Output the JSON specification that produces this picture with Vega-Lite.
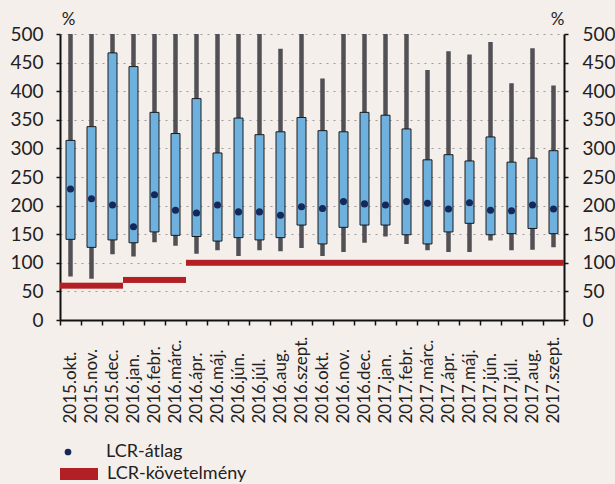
{
  "$schema": "https://vega.github.io/schema/vega-lite/v6.json",
  "width": 504,
  "height": 286,
  "autosize": {"type": "none"},
  "padding": {"left": 60, "top": 34, "right": 51, "bottom": 164},
  "background": "#f5efeb",
  "config": {
    "view": {"stroke": null},
    "font": "Lato",
    "axis": {"labelFont": "Lato", "titleFont": "Lato", "labelColor": "#222", "titleColor": "#222"}
  },
  "data": {
    "values": [
      {"m": "2015.okt.", "min": 76, "q1": 141, "mean": 229, "q3": 314, "max": 500, "req": 60},
      {"m": "2015.nov.", "min": 72, "q1": 127, "mean": 212, "q3": 338, "max": 500, "req": 60},
      {"m": "2015.dec.", "min": 115, "q1": 140, "mean": 201, "q3": 467, "max": 500, "req": 60},
      {"m": "2016.jan.", "min": 111, "q1": 135, "mean": 163, "q3": 443, "max": 500, "req": 70},
      {"m": "2016.febr.", "min": 136, "q1": 154, "mean": 219, "q3": 363, "max": 500, "req": 70},
      {"m": "2016.márc.", "min": 130, "q1": 148, "mean": 192, "q3": 326, "max": 500, "req": 70},
      {"m": "2016.ápr.", "min": 116, "q1": 146, "mean": 187, "q3": 387, "max": 500, "req": 100},
      {"m": "2016.máj.", "min": 122, "q1": 138, "mean": 201, "q3": 292, "max": 500, "req": 100},
      {"m": "2016.jún.", "min": 112, "q1": 144, "mean": 189, "q3": 353, "max": 500, "req": 100},
      {"m": "2016.júl.", "min": 122, "q1": 140, "mean": 189, "q3": 324, "max": 500, "req": 100},
      {"m": "2016.aug.", "min": 120, "q1": 144, "mean": 183, "q3": 329, "max": 474, "req": 100},
      {"m": "2016.szept.", "min": 126, "q1": 166, "mean": 198, "q3": 354, "max": 500, "req": 100},
      {"m": "2016.okt.", "min": 112, "q1": 133, "mean": 195, "q3": 331, "max": 422, "req": 100},
      {"m": "2016.nov.", "min": 119, "q1": 162, "mean": 207, "q3": 329, "max": 500, "req": 100},
      {"m": "2016.dec.", "min": 135, "q1": 166, "mean": 203, "q3": 363, "max": 500, "req": 100},
      {"m": "2017.jan.", "min": 146, "q1": 166, "mean": 201, "q3": 358, "max": 500, "req": 100},
      {"m": "2017.febr.", "min": 133, "q1": 149, "mean": 207, "q3": 334, "max": 500, "req": 100},
      {"m": "2017.márc.", "min": 122, "q1": 133, "mean": 204, "q3": 280, "max": 437, "req": 100},
      {"m": "2017.ápr.", "min": 119, "q1": 154, "mean": 194, "q3": 289, "max": 470, "req": 100},
      {"m": "2017.máj.", "min": 119, "q1": 169, "mean": 205, "q3": 278, "max": 464, "req": 100},
      {"m": "2017.jún.", "min": 139, "q1": 149, "mean": 192, "q3": 320, "max": 486, "req": 100},
      {"m": "2017.júl.", "min": 122, "q1": 151, "mean": 191, "q3": 276, "max": 414, "req": 100},
      {"m": "2017.aug.", "min": 123, "q1": 160, "mean": 201, "q3": 283, "max": 475, "req": 100},
      {"m": "2017.szept.", "min": 127, "q1": 151, "mean": 194, "q3": 296, "max": 410, "req": 100}
    ]
  },
  "encoding": {
    "x": {
      "field": "m", "type": "nominal", "sort": null,
      "scale": {"paddingInner": 0, "paddingOuter": 0},
      "axis": {
        "title": null, "labelAngle": -90, "labelAlign": "left", "labelBaseline": "middle",
        "labelFontSize": 17, "labelPadding": 98,
        "tickBand": "extent", "tickSize": 5, "tickColor": "#111", "tickWidth": 1.5,
        "domainColor": "#111", "domainWidth": 2, "grid": false
      }
    }
  },
  "layer": [
    {
      "mark": {"type": "rule", "color": "#505055", "strokeWidth": 4.5},
      "encoding": {
        "y": {
          "field": "min", "type": "quantitative",
          "scale": {"domain": [0, 500], "nice": false},
          "axis": {
            "orient": "left", "values": [0, 50, 100, 150, 200, 250, 300, 350, 400, 450, 500],
            "title": "%", "titleAngle": 0, "titleX": 8, "titleY": -10, "titleAlign": "center",
            "titleBaseline": "alphabetic", "titleFontSize": 17, "titleFontWeight": "normal",
            "labelFontSize": 19, "labelPadding": 13, "tickSize": 4, "tickColor": "#111", "tickWidth": 1.5,
            "domainColor": "#111", "domainWidth": 2,
            "grid": true, "gridColor": "#9a9a9a", "gridDash": [2, 5], "gridWidth": 1
          }
        },
        "y2": {"field": "max"}
      }
    },
    {
      "mark": {"type": "bar", "size": 9, "fill": "#6fb1de", "stroke": "#1c1c1c", "strokeWidth": 1},
      "encoding": {
        "y": {"field": "q1", "type": "quantitative", "scale": {"domain": [0, 500], "nice": false}, "axis": null},
        "y2": {"field": "q3"}
      }
    },
    {
      "mark": {"type": "tick", "orient": "horizontal", "size": 21, "thickness": 6, "opacity": 1},
      "encoding": {
        "y": {"field": "req", "type": "quantitative", "scale": {"domain": [0, 500], "nice": false}, "axis": null},
        "color": {
          "datum": "LCR-követelmény",
          "scale": {"domain": ["LCR-követelmény"], "range": ["#b22025"]},
          "legend": {
            "title": null, "orient": "none", "legendX": 0, "legendY": 421, "padding": 0,
            "symbolType": "M-1,-0.32H1V0.32H-1Z", "symbolSize": 1444, "symbolStrokeWidth": 0,
            "symbolFillColor": "#b22025", "symbolOpacity": 1,
            "labelFont": "Lato", "labelFontSize": 18, "labelColor": "#222", "labelOffset": 9
          }
        }
      }
    },
    {
      "mark": {"type": "point", "filled": true, "size": 50, "opacity": 1},
      "encoding": {
        "y": {
          "field": "mean", "type": "quantitative",
          "scale": {"domain": [0, 500], "nice": false},
          "axis": {
            "orient": "right", "values": [0, 50, 100, 150, 200, 250, 300, 350, 400, 450, 500],
            "title": "%", "titleAngle": 0, "titleX": -7, "titleY": -10, "titleAlign": "center",
            "titleBaseline": "alphabetic", "titleFontSize": 17, "titleFontWeight": "normal",
            "labelFontSize": 19, "labelPadding": 14, "tickSize": 4, "tickColor": "#111", "tickWidth": 1.5,
            "domainColor": "#111", "domainWidth": 2, "grid": false
          }
        },
        "color": {
          "datum": "LCR-átlag",
          "scale": {"domain": ["LCR-átlag"], "range": ["#14285a"]},
          "legend": {
            "title": null, "orient": "none", "legendX": -1, "legendY": 409, "padding": 0,
            "symbolType": "circle", "symbolSize": 45, "symbolOpacity": 1,
            "labelFont": "Lato", "labelFontSize": 18, "labelColor": "#222", "labelOffset": 29
          }
        }
      }
    }
  ],
  "resolve": {"scale": {"y": "independent", "color": "independent"}}
}
